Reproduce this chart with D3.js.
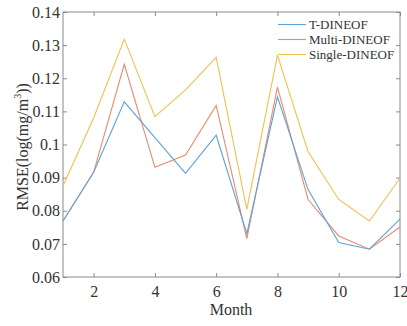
<!DOCTYPE html>
<html><head><meta charset="utf-8">
<script src="https://cdn.jsdelivr.net/npm/d3@7"></script>
<style>body{margin:0;background:#fff}svg{display:block}text{font-family:"Liberation Serif","Times New Roman",serif}</style>
</head><body>
<svg id="c" width="407" height="326"></svg>
<script>
const months = [1,2,3,4,5,6,7,8,9,10,11,12];
const tDineof = [0.0769,0.0916,0.1129,0.1021,0.0913,0.1028,0.0731,0.1144,0.0864,0.0704,0.0684,0.0775];
const multiDineof = [0.0769,0.0916,0.1242,0.0931,0.0968,0.1118,0.0716,0.1173,0.0834,0.0724,0.0684,0.0751];
const singleDineof = [0.0875,0.1080,0.1318,0.1084,0.1165,0.1263,0.0804,0.1270,0.0978,0.0834,0.0769,0.0898];
const seriesNames = ["T-DINEOF","Multi-DINEOF","Single-DINEOF"];
const seriesColors = ["#5fa2d8","#e98a6e","#f1c04e"];
const yTicks = [0.06,0.07,0.08,0.09,0.1,0.11,0.12,0.13,0.14];
const xTicks = [2,4,6,8,10,12];

const svg = d3.select("#c");
const L=63,R=400,T=12,B=277;
const x = d3.scaleLinear().domain([1,12]).range([L,R]);
const y = d3.scaleLinear().domain([0.06,0.14]).range([B,T]);
const axisCol="#8a8a8a", txtCol="#333";

svg.append("rect").attr("x",L).attr("y",T).attr("width",R-L).attr("height",B-T)
  .attr("fill","none").attr("stroke",axisCol).attr("stroke-width",1);

const gx = svg.append("g").attr("transform",`translate(0,${B})`)
  .call(d3.axisBottom(x).tickValues(xTicks).tickSize(-4).tickPadding(9).tickFormat(d3.format("d")));
const gy = svg.append("g").attr("transform",`translate(${L},0)`)
  .call(d3.axisLeft(y).tickValues(yTicks).tickSize(-4).tickPadding(3).tickFormat(d=>String(+d.toFixed(2))));
const gt = svg.append("g").attr("transform",`translate(0,${T})`)
  .call(d3.axisTop(x).tickValues(xTicks).tickSize(-4).tickFormat(""));
const gr = svg.append("g").attr("transform",`translate(${R},0)`)
  .call(d3.axisRight(y).tickValues(yTicks).tickSize(-4).tickFormat(""));
[gx,gy,gt,gr].forEach(g=>{
  g.select(".domain").remove();
  g.selectAll(".tick line").attr("stroke",axisCol);
  g.selectAll(".tick text").attr("fill",txtCol).style("font-size","16px").style("font-family","Liberation Serif");
});

const data=[tDineof,multiDineof,singleDineof];
const line = d3.line().x((d,i)=>x(months[i])).y(d=>y(d));
[2,1,0].forEach(k=>{
  svg.append("path").datum(data[k]).attr("d",line).attr("fill","none")
    .attr("stroke",seriesColors[k]).attr("stroke-width",1.1);
});

seriesNames.forEach((n,i)=>{
  const yy=24.5+i*15;
  svg.append("line").attr("x1",278).attr("x2",306).attr("y1",yy).attr("y2",yy)
    .attr("stroke",seriesColors[i]).attr("stroke-width",1.1);
  svg.append("text").attr("x",309).attr("y",yy+4.5).attr("fill",txtCol)
    .style("font-size","13px").text(n);
});

svg.append("text").attr("x",231).attr("y",315).attr("text-anchor","middle")
  .attr("fill",txtCol).style("font-size","16px").text("Month");
const yl = svg.append("text").attr("transform","translate(28,147) rotate(-90)")
  .attr("text-anchor","middle").attr("fill",txtCol).style("font-size","16px");
yl.append("tspan").text("RMSE(log(mg/m");
yl.append("tspan").attr("dy",-7).style("font-size","10px").text("3");
yl.append("tspan").attr("dy",7).text("))");
</script>
</body></html>
